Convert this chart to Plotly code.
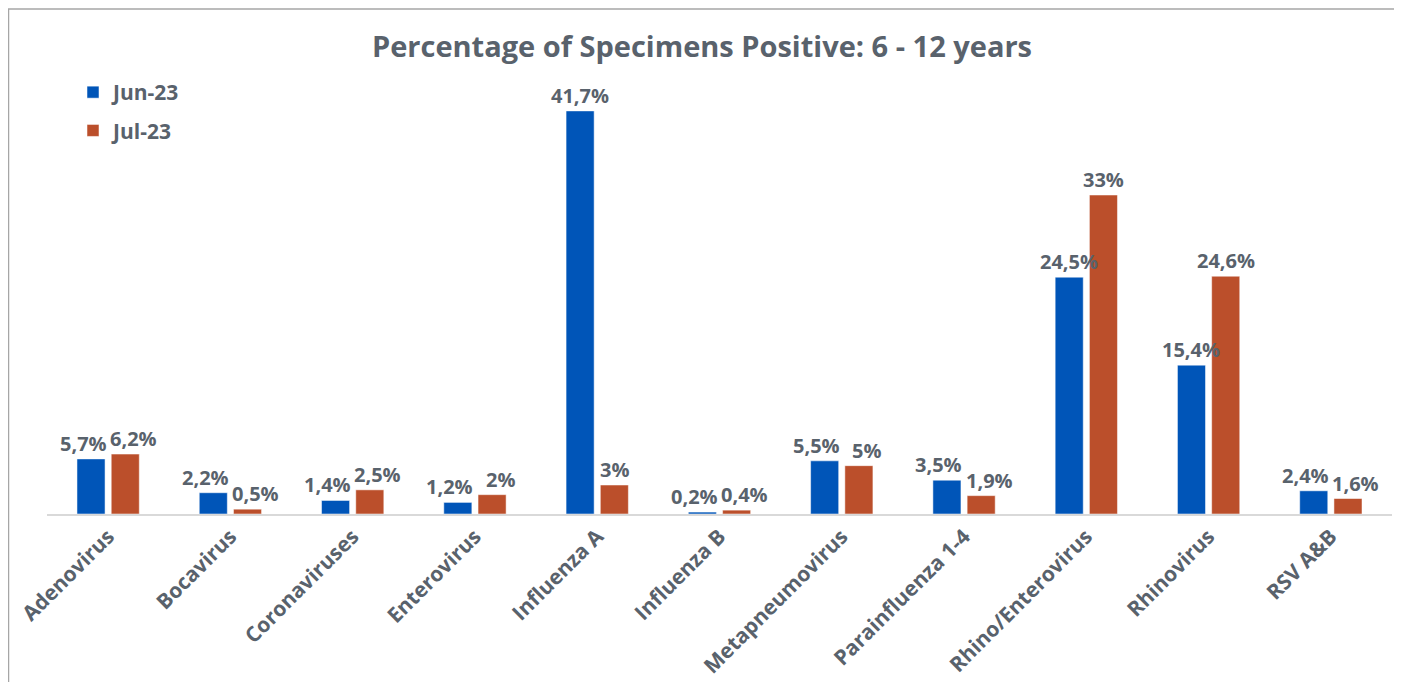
import plotly.graph_objects as go

categories = ["Adenovirus", "Bocavirus", "Coronaviruses", "Enterovirus", "Influenza A",
              "Influenza B", "Metapneumovirus", "Parainfluenza 1-4", "Rhino/Enterovirus",
              "Rhinovirus", "RSV A&B"]
jun23 = [5.7, 2.2, 1.4, 1.2, 41.7, 0.2, 5.5, 3.5, 24.5, 15.4, 2.4]
jul23 = [6.2, 0.5, 2.5, 2.0, 3.0, 0.4, 5.0, 1.9, 33.0, 24.6, 1.6]
series_names = ["Jun-23", "Jul-23"]
title_text = "Percentage of Specimens Positive: 6 - 12 years"

BLUE = "#0055B8"
ORANGE = "#BB4F2B"
GREY = "#59626C"
FONT = "Open Sans"


def fmt(v):
    return f"{v:g}".replace(".", ",") + "%"


# page is offset by 8px (body margin); figure coords = reference coords - 8
W, H = 1394, 674
ml, mr = 39, 10
base = 506
mt = base - 435
mb = H - base
pw = W - ml - mr
ph = H - mt - mb
YMAX = 45
px_per_unit = ph / YMAX
BARGAP, GROUPGAP = 0.44, 0.18
cat_w = pw / len(categories)
bar_off = cat_w * (1 - BARGAP) / 4  # centre offset of each bar in a group

fig = go.Figure()
for name, vals, col, grp in [(series_names[0], jun23, BLUE, "a"), (series_names[1], jul23, ORANGE, "b")]:
    fig.add_trace(go.Bar(
        x=categories, y=vals, name=name, legendgroup=grp,
        marker=dict(color=col, line=dict(color="rgba(255,255,255,0.5)", width=1)),
        hovertemplate="%{x}: %{y}%<extra>" + name + "</extra>",
    ))

# data labels: nudged apart horizontally when the pair would collide
annotations = []
for c, a, b in zip(categories, jun23, jul23):
    collide = abs(a - b) * px_per_unit < 22
    nudge = 8 if collide else 0
    for v, sgn in ((a, -1), (b, 1)):
        annotations.append(dict(
            x=c, y=v, xref="x", yref="y", text=fmt(v), showarrow=False,
            xanchor="center", yanchor="bottom", xshift=sgn * (bar_off + nudge), yshift=0,
            font=dict(family=FONT, size=20, color=GREY, weight="bold"),
        ))

fig.update_layout(
    width=W, height=H,
    margin=dict(l=ml, r=mr, t=mt, b=mb, autoexpand=False),
    paper_bgcolor="white", plot_bgcolor="white",
    barmode="group", bargap=BARGAP, bargroupgap=GROUPGAP,
    title=dict(text=title_text, x=694 / W, xanchor="center", y=1 - 39 / H, yanchor="middle",
               font=dict(family=FONT, size=29, color=GREY, weight="bold")),
    legend=dict(x=(65 - ml) / pw, y=(base - 64) / ph, xanchor="left", yanchor="top",
                font=dict(family=FONT, size=21, color=GREY, weight="bold"),
                tracegroupgap=8, itemwidth=30, bgcolor="rgba(0,0,0,0)"),
    showlegend=True,
    annotations=annotations,
    xaxis=dict(tickangle=-45, showline=True, linecolor="#D9D9D9", linewidth=2,
               ticks="", showgrid=False, automargin=False,
               tickfont=dict(family=FONT, size=21, color=GREY, weight="bold")),
    yaxis=dict(range=[0, YMAX], visible=False, showgrid=False, zeroline=False),
)

fig.add_shape(type="rect", xref="paper", yref="paper",
              x0=(0.5 - ml) / pw, x1=(1389 - ml) / pw,
              y0=(base - 700) / ph, y1=(base - 1) / ph,
              line=dict(color="#A6A6A6", width=1.5), fillcolor="rgba(0,0,0,0)")

fig.write_html("out.html")
